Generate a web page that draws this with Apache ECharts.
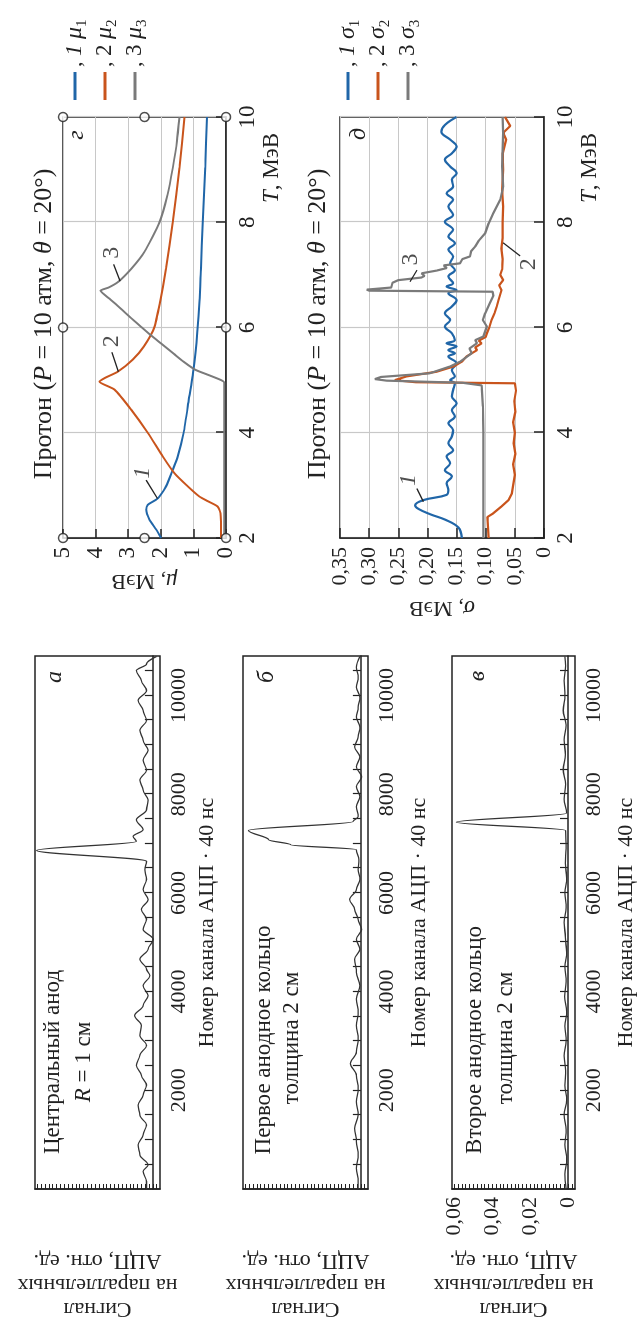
<!DOCTYPE html>
<html>
<head>
<meta charset="utf-8">
<script src="https://cdn.jsdelivr.net/npm/echarts@6/dist/echarts.min.js"></script>
<style>
  html, body { margin: 0; padding: 0; background: #fff; overflow: hidden; }
  #page { width: 639px; height: 1324px; position: relative; overflow: hidden; }
  /* фигура свёрстана горизонтально и повёрнута на 90° против часовой */
  #fig { position: absolute; left: 0; top: 0; width: 1324px; height: 639px;
         transform-origin: 0 0; transform: translate(0, 1324px) rotate(-90deg); }
</style>
</head>
<body>
<div id="page"><div id="fig"></div></div>
<script>
// ---- данные: сигналы АЦП (номер канала, отн. ед.) ----
const chanLabels = [2000, 4000, 6000, 8000, 10000];
const chanTicks = [500, 1000, 1500, 2000, 2500, 3000, 3500, 4000, 4500, 5000, 5500,
  6000, 6500, 7000, 7500, 8000, 8500, 9000, 9500, 10000, 10500];
const sigLabels = [0, 0.02, 0.04, 0.06];

const sigA = [[0, .0033], [155, .0033], [357, .0051], [490, .0025], [692, .0068], [893, .0077],
  [1095, .0051], [1296, .0033], [1498, .0068], [1700, .0077], [1901, .0051], [2103, .0033],
  [2305, .0060], [2506, .0086], [2708, .0068], [2909, .0033], [3111, .0068], [3313, .0060],
  [3514, .0095], [3716, .0051], [3917, .0025], [4119, .0051], [4321, .0016], [4456, .0033],
  [4657, .0068], [4859, .0025], [5060, -.0002], [5262, .0051], [5464, .0033], [5665, .0060],
  [5867, .0025], [6069, .0051], [6270, .0033], [6472, .0042], [6640, .0033], [6861, .0604],
  [7043, .0086], [7144, .0103], [7278, .0051], [7480, .0086], [7681, .0033], [7883, .0025],
  [8085, .0051], [8286, .0068], [8488, .0033], [8690, .0051], [8891, .0025], [9093, .0051],
  [9294, .0068], [9496, .0033], [9698, .0051], [9899, .0077], [10101, .0033], [10302, .0060],
  [10504, .0086], [10639, .0033], [10790, -.0019]];

const sigB = [[0, .0014], [155, .0014], [423, .0023], [692, .0014], [961, .0023], [1230, .0032],
  [1498, .0014], [1768, .0023], [2036, .0014], [2305, .0023], [2540, .0054], [2776, .0023],
  [3044, .0014], [3313, .0023], [3583, .0014], [3851, .0023], [4119, .0005], [4389, .0023],
  [4657, .0032], [4859, .0005], [5060, .0023], [5262, -.0004], [5464, .0014], [5665, .0032],
  [5867, .0058], [6069, .0023], [6270, .0005], [6472, .0014], [6673, .0010], [6875, .0023],
  [6976, .0365], [7077, .0479], [7265, .0584], [7446, .0040], [7546, .0014], [7748, .0023],
  [7950, .0005], [8151, .0023], [8353, -.0004], [8554, .0023], [8756, .0005], [8958, .0032],
  [9159, .0014], [9361, .0005], [9563, .0023], [9764, .0014], [9966, .0005], [10167, .0023],
  [10369, .0014], [10571, .0023], [10790, .0005]];

const sigV = [[0, .0010], [300, .0016], [600, .0007], [900, .0016], [1200, .0010], [1500, .0020],
  [1800, .0007], [2100, .0016], [2400, .0012], [2700, .0020], [3000, .0010], [3300, .0016],
  [3600, .0007], [3900, .0018], [4200, .0010], [4500, .0016], [4800, .0007], [5100, .0014],
  [5400, .0020], [5700, .0010], [6000, .0016], [6300, .0007], [6600, .0014], [6900, .0010],
  [7265, .0012], [7433, .0589], [7615, .0007], [7900, .0020], [8200, .0012], [8500, .0025],
  [8800, .0014], [9100, .0020], [9400, .0010], [9700, .0025], [10000, .0016], [10300, .0020],
  [10600, .0012], [10790, .0016]];

// ---- данные: протон, μ(T), МэВ ----
const mu1 = [[2.0, 1.99], [2.16, 2.14], [2.35, 2.35], [2.54, 2.45], [2.63, 2.40], [2.73, 2.14],
  [2.79, 2.04], [2.98, 1.84], [3.3, 1.63], [3.55, 1.48], [4.0, 1.30], [4.63, 1.14], [5.2, 1.0],
  [5.91, 0.88], [6.5, 0.81], [7.12, 0.77], [8.0, 0.71], [9.04, 0.64], [10.0, 0.58]];
const mu2 = [[2.0, 0.15], [2.47, 0.17], [2.6, 0.26], [2.7, 0.56], [2.79, 0.82], [2.98, 1.17],
  [3.23, 1.58], [3.55, 1.94], [4.0, 2.40], [4.44, 2.91], [4.82, 3.42], [4.97, 3.88], [5.04, 3.72],
  [5.16, 3.32], [5.39, 2.86], [5.64, 2.52], [6.0, 2.2], [6.5, 2.02], [7.12, 1.84], [8.0, 1.63],
  [9.04, 1.43], [10.0, 1.27]];
const mu3 = [[2.0, 0.05], [4.95, 0.05], [5.0, 0.15], [5.1, 0.55], [5.2, 0.95], [5.35, 1.3],
  [5.5, 1.6], [5.7, 2.0], [5.85, 2.3], [6.0, 2.58], [6.2, 2.95], [6.4, 3.3], [6.55, 3.58],
  [6.7, 3.85], [6.76, 3.6], [6.87, 3.3], [7.12, 2.9], [7.44, 2.5], [8.0, 2.04], [8.53, 1.79],
  [9.04, 1.63], [9.55, 1.5], [10.0, 1.43]];

// ---- данные: протон, σ(T), МэВ ----
const sigma1 = [[2.0, .141], [2.2, .147], [2.35, .170], [2.45, .195], [2.55, .215], [2.62, .221],
  [2.72, .207], [2.82, .167], [2.91, .164], [3.04, .167], [3.17, .158], [3.29, .170], [3.42, .161],
  [3.55, .167], [3.67, .156], [3.8, .164], [3.93, .158], [4.05, .156], [4.18, .164], [4.31, .153],
  [4.43, .158], [4.56, .150], [4.69, .158], [4.81, .156], [4.94, .153], [5.0, .161], [5.07, .153],
  [5.19, .158], [5.32, .150], [5.45, .164], [5.51, .153], [5.57, .164], [5.64, .150], [5.7, .167],
  [5.76, .153], [5.89, .158], [6.02, .170], [6.14, .161], [6.27, .170], [6.4, .158], [6.52, .150],
  [6.65, .164], [6.71, .150], [6.78, .167], [6.84, .156], [6.97, .164], [7.09, .153], [7.22, .161],
  [7.35, .156], [7.48, .164], [7.6, .153], [7.73, .164], [7.86, .156], [8.01, .170], [8.14, .156],
  [8.3, .164], [8.43, .156], [8.55, .167], [8.68, .156], [8.81, .158], [8.93, .150], [9.06, .161],
  [9.19, .170], [9.31, .158], [9.44, .150], [9.57, .161], [9.72, .176], [9.85, .170], [10.0, .150]];
const sigma2 = [[2.0, .095], [2.4, .097], [2.47, .087], [2.6, .073], [2.72, .061], [2.85, .055],
  [3.0, .053], [3.2, .050], [3.4, .053], [3.6, .049], [3.8, .052], [4.0, .050], [4.2, .053],
  [4.4, .049], [4.6, .051], [4.8, .048], [4.94, .050], [4.96, .220], [5.0, .256], [5.07, .236],
  [5.16, .184], [5.26, .155], [5.35, .141], [5.45, .133], [5.57, .115], [5.62, .118], [5.7, .107],
  [5.75, .112], [5.82, .100], [5.89, .098], [6.0, .094], [6.14, .090], [6.27, .085], [6.4, .081],
  [6.52, .078], [6.71, .073], [6.8, .077], [6.9, .070], [7.0, .075], [7.1, .072], [7.3, .071],
  [7.5, .073], [7.7, .071], [8.0, .071], [8.3, .070], [8.6, .072], [9.0, .070], [9.3, .071],
  [9.57, .065], [9.7, .070], [9.83, .058], [10.0, .067]];
const sigma3 = [[2.0, .104], [3.0, .104], [4.0, .104], [4.5, .105], [4.9, .107], [4.95, .140],
  [4.99, .270], [5.02, .290], [5.06, .280], [5.13, .196], [5.26, .161], [5.35, .144], [5.51, .124],
  [5.6, .128], [5.7, .115], [5.76, .118], [5.83, .104], [6.02, .098], [6.14, .105], [6.27, .101],
  [6.46, .093], [6.6, .087], [6.68, .088], [6.7, .300], [6.72, .304], [6.76, .262], [6.85, .260],
  [6.9, .250], [6.95, .210], [6.98, .205], [7.03, .210], [7.08, .185], [7.13, .167], [7.18, .172],
  [7.22, .144], [7.3, .140], [7.35, .127], [7.45, .125], [7.54, .118], [7.65, .112], [7.79, .101],
  [7.98, .095], [8.17, .087], [8.43, .075], [8.68, .070], [9.06, .072], [9.38, .071], [9.69, .070],
  [10.0, .071]];

// маркеры-кружки на рамке панели г
const markersG = [[2, 0], [2, 2.5], [2, 5], [6, 0], [6, 5], [10, 0], [10, 2.5], [10, 5]];
// номера кривых и выноски
const notesG = [[3.24, 2.55, "1"], [5.74, 3.5, "2"], [7.42, 3.52, "3"]];
const leadersG = [[[3.1, 2.45], [2.75, 2.1]], [[5.53, 3.5], [5.16, 3.3]], [[7.2, 3.45], [6.88, 3.25]]];
const notesD = [[3.1, .232, "1"], [7.2, .026, "2"], [7.29, .229, "3"]];
const leadersD = [[[2.94, .218], [2.69, .207]], [[7.36, .041], [7.61, .070]], [[7.09, .218], [6.87, .230]]];

// ---- оформление ----
const FONT = '"Liberation Serif", "DejaVu Serif", serif';
const INK = "#222";
const BLUE = "#2066a8", ORANGE = "#c9541c", GRAY = "#7a7a7a";
const GRIDLINE = "#c8c8c8";

const chart = echarts.init(document.getElementById("fig"), null, { renderer: "canvas" });

const ital = { fontStyle: "italic", fontFamily: FONT };
const commaFmt = v => (Math.abs(v) < 1e-9 ? "0" : v.toFixed(2).replace(".", ","));

function box(left, top, width, height) {
  return { left, top, width, height, show: true, borderColor: INK, borderWidth: 1.5,
    containLabel: false, outerBoundsMode: "none" };
}

function chanAxis(i, gap) {
  return {
    type: "value", gridIndex: i, min: 0, max: 10800,
    axisLine: { show: true, lineStyle: { color: INK, width: 1.5 } },
    axisTick: { show: true, inside: true, length: 8, customValues: chanTicks, lineStyle: { color: INK, width: 1.2 } },
    axisLabel: { customValues: chanLabels, formatter: v => String(v),
      fontFamily: FONT, fontSize: 22, color: INK, margin: 8 },
    splitLine: { show: false },
    name: "Номер канала АЦП · 40 нс", nameLocation: "middle", nameGap: gap,
    nameTextStyle: { fontFamily: FONT, fontSize: 22, color: INK },
  };
}

function sigAxis(i, labels) {
  const ticks = [];
  for (let k = -1; k <= 30; k++) ticks.push(k * 0.002);
  return {
    type: "value", gridIndex: i, min: -0.0037, max: 0.0612,
    axisLine: { show: true, lineStyle: { color: INK, width: 1.5 } },
    axisTick: { show: true, inside: true, length: 5, customValues: ticks, lineStyle: { color: INK, width: 1 } },
    axisLabel: { show: labels, customValues: sigLabels, formatter: commaFmt,
      fontFamily: FONT, fontSize: 22, color: INK, margin: 8 },
    splitLine: { show: false },
    name: "Сигнал\nна параллельных\nАЦП, отн. ед.", nameLocation: "middle", nameRotate: 90, nameGap: 60,
    nameTextStyle: { fontFamily: FONT, fontSize: 22, lineHeight: 24, color: INK, align: "center" },
  };
}

function tAxis(i) {
  return {
    type: "value", gridIndex: i, min: 2, max: 10, interval: 2,
    axisLine: { show: true, lineStyle: { color: INK, width: 1.5 } },
    axisTick: { show: true, inside: true, length: 10, lineStyle: { color: INK, width: 1.5 } },
    axisLabel: { fontFamily: FONT, fontSize: 23, color: INK, margin: 10 },
    splitLine: { show: true, lineStyle: { color: GRIDLINE, width: 1.2 } },
    name: "{i|T}, МэВ", nameLocation: "end", nameGap: -16,
    nameTextStyle: { fontFamily: FONT, fontSize: 23, color: INK, align: "right", verticalAlign: "top",
      padding: [34, 0, 0, 0], rich: { i: Object.assign({ fontSize: 23, color: INK }, ital) } },
  };
}

function line(name, data, color, xi, smooth, width, monotone) {
  const s = { name, type: "line", xAxisIndex: xi, yAxisIndex: xi, data, smooth,
    showSymbol: false, symbol: "none", lineStyle: { color, width }, itemStyle: { color }, z: 3, animation: false };
  if (monotone) s.smoothMonotone = "x";
  return s;
}

function leaders(xi, pairs, notes) {
  return [{
    type: "lines", coordinateSystem: "cartesian2d", xAxisIndex: xi, yAxisIndex: xi, silent: true,
    data: pairs.map(p => ({ coords: p })), lineStyle: { color: INK, width: 1.3, opacity: 1 }, z: 5,
  }, {
    type: "scatter", xAxisIndex: xi, yAxisIndex: xi, silent: true, symbolSize: 1,
    itemStyle: { color: "transparent" }, data: notes, z: 6,
    label: { show: true, position: "inside", fontFamily: FONT, fontSize: 24, color: INK,
      formatter: p => (p.value[2] === "1" ? "{i|1}" : p.value[2]),
      rich: { i: Object.assign({ fontSize: 24, color: INK }, ital) } },
  }];
}

function legendFor(names, top) {
  return {
    orient: "vertical", left: 1224, top, itemWidth: 28, itemHeight: 3, itemGap: 0, icon: "rect",
    selectedMode: false, data: names, padding: 0,
    formatter: n => ", {" + (n[1] === "1" ? "ni" : "n") + "|" + n[1] + "} {g|" + n[0] + "}{s|" + n[1] + "}",
    textStyle: { fontFamily: FONT, fontSize: 22, color: INK, lineHeight: 30,
      rich: {
        n: { fontFamily: FONT, fontSize: 23, lineHeight: 30, color: INK },
        ni: Object.assign({ fontSize: 23, lineHeight: 30, color: INK }, ital),
        g: Object.assign({ fontSize: 24, lineHeight: 30, color: INK }, ital),
        s: { fontFamily: FONT, fontSize: 15, lineHeight: 20, verticalAlign: "bottom", color: INK },
      } },
  };
}

function label(x, y, text, size, italic) {
  return { type: "text", x, y, silent: true, z: 10,
    style: { text, fontFamily: FONT, fontSize: size, fontStyle: italic ? "italic" : "normal", fill: INK,
      textAlign: "center", textVerticalAlign: "middle", align: "center", verticalAlign: "middle",
      rich: { i: Object.assign({ fontSize: size, fill: INK, color: INK }, ital) } } };
}

const title = "Протон ({i|P} = 10 атм, {i|θ} = 20°)";

chart.setOption({
  animation: false,
  backgroundColor: "#fff",
  textStyle: { fontFamily: FONT },
  grid: [
    box(135, 35, 533, 125),   // а
    box(135, 243, 533, 125),  // б
    box(135, 452, 533, 123),  // в
    box(786, 63, 421, 163),   // г
    box(786, 340, 421, 204),  // д
  ],
  xAxis: [chanAxis(0, 36), chanAxis(1, 40), chanAxis(2, 40), tAxis(3), tAxis(4)],
  yAxis: [
    sigAxis(0, false), sigAxis(1, false), sigAxis(2, true),
    {
      type: "value", gridIndex: 3, min: 0, max: 5, interval: 1,
      axisLine: { show: true, lineStyle: { color: INK, width: 1.5 } },
      axisTick: { inside: true, length: 9, lineStyle: { color: INK, width: 1.5 } },
      axisLabel: { fontFamily: FONT, fontSize: 23, color: INK, margin: 9 },
      splitLine: { show: true, lineStyle: { color: GRIDLINE, width: 1.2 } },
      name: "{i|μ}, МэВ", nameLocation: "middle", nameRotate: 90, nameGap: 31,
      nameTextStyle: { fontFamily: FONT, fontSize: 22, color: INK, rich: { i: Object.assign({ fontSize: 23, color: INK }, ital) } },
    },
    {
      type: "value", gridIndex: 4, min: 0, max: 0.35, interval: 0.05,
      axisLine: { show: true, lineStyle: { color: INK, width: 1.5 } },
      axisTick: { inside: true, length: 10, lineStyle: { color: INK, width: 1.5 } },
      axisLabel: { fontFamily: FONT, fontSize: 22, color: INK, margin: 9, formatter: commaFmt },
      splitLine: { show: true, lineStyle: { color: GRIDLINE, width: 1.2 } },
      name: "{i|σ}, МэВ", nameLocation: "middle", nameRotate: 90, nameGap: 58,
      nameTextStyle: { fontFamily: FONT, fontSize: 22, color: INK, rich: { i: Object.assign({ fontSize: 23, color: INK }, ital) } },
    },
  ],
  legend: [legendFor(["μ1", "μ2", "μ3"], 60), legendFor(["σ1", "σ2", "σ3"], 333)],
  graphic: [
    label(262, 53, "Центральный анод", 23),
    label(262, 84, "{i|R} = 1 см", 23),
    label(284, 264, "Первое анодное кольцо", 23),
    label(286, 292, "толщина 2 см", 23),
    label(284, 475, "Второе анодное кольцо", 23),
    label(286, 506, "толщина 2 см", 23),
    label(647, 55, "а", 24, true),
    label(647, 267, "б", 24, true),
    label(648, 478, "в", 24, true),
    label(1189, 77, "г", 24, true),
    label(1190, 359, "д", 24, true),
    label(1000, 44, title, 26),
    label(1000, 318, title, 26),
  ],
  series: [
    line("а", sigA, "#333", 0, 0.35, 1.3, true),
    line("б", sigB, "#333", 1, 0.35, 1.3, true),
    line("в", sigV, "#333", 2, 0.35, 1.3, true),
    line("μ1", mu1, BLUE, 3, 0.2, 2),
    line("μ2", mu2, ORANGE, 3, 0.2, 2),
    line("μ3", mu3, GRAY, 3, 0.2, 2),
    line("σ1", sigma1, BLUE, 4, 0.4, 2.2),
    line("σ2", sigma2, ORANGE, 4, false, 2.2),
    line("σ3", sigma3, GRAY, 4, false, 2.2),
    {
      type: "scatter", xAxisIndex: 3, yAxisIndex: 3, data: markersG, symbol: "circle", symbolSize: 9,
      itemStyle: { color: "#fff", borderColor: INK, borderWidth: 1.5 }, clip: false, silent: true, z: 8,
    },
    ...leaders(3, leadersG, notesG),
    ...leaders(4, leadersD, notesD),
  ],
});
</script>
</body>
</html>
